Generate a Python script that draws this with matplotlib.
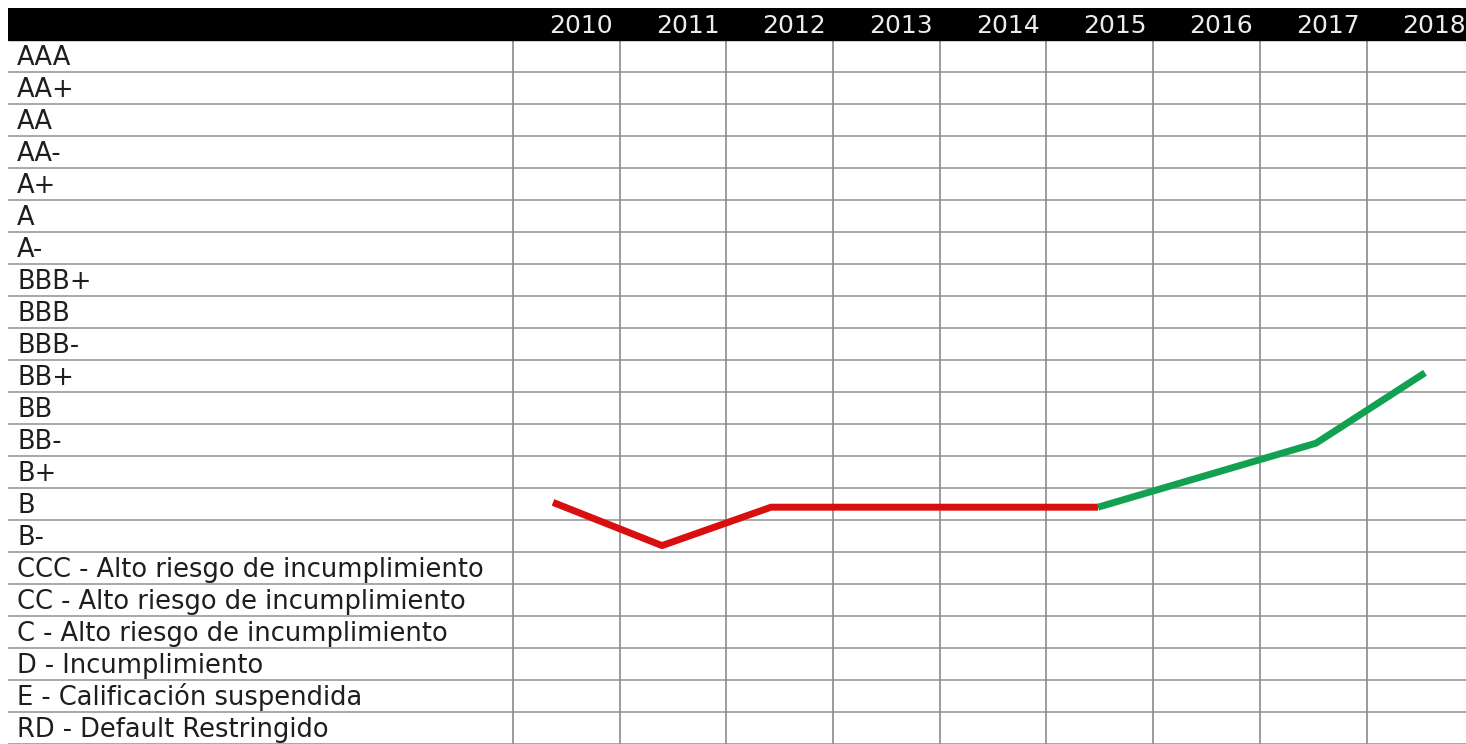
import matplotlib
matplotlib.use("Agg")
import matplotlib.pyplot as plt

# rating scale, top to bottom
ratings = ["AAA", "AA+", "AA", "AA-", "A+", "A", "A-", "BBB+", "BBB", "BBB-",
           "BB+", "BB", "BB-", "B+", "B", "B-",
           "CCC - Alto riesgo de incumplimiento",
           "CC - Alto riesgo de incumplimiento",
           "C - Alto riesgo de incumplimiento",
           "D - Incumplimiento",
           "E - Calificación suspendida",
           "RD - Default Restringido"]
years = [2010, 2011, 2012, 2013, 2014, 2015, 2016, 2017, 2018]
# rating position per year (row index, 0 = AAA)
rating_pos = [13.95, 15.3, 14.1, 14.1, 14.1, 14.1, 13.1, 12.1, 9.9]
split_year = 2015  # red up to here, green after

plt.rcParams["font.family"] = ["DejaVu Sans"]

W, H = 1466, 744
fig = plt.figure(figsize=(W / 100, H / 100), dpi=100)
ax = fig.add_axes([8 / W, 0, (W - 8) / W, (H - 8) / H])

col_w = 106.7  # px per year column
first_col = 513  # px where the 2010 column starts
x_left = years[0] - 0.5 - (first_col - 8) / col_w
x_right = years[0] - 0.5 + (W - first_col) / col_w
ax.set_xlim(x_left, x_right)
ax.set_ylim(len(ratings) - 0.5, -1.5)
ax.axis("off")

# header band
ax.axhspan(-1.5, -0.5, color="black", zorder=1)
for y in years:
    ax.text(y + 0.5 - 7 / col_w, -1 + 0.27, str(y), color="#ececec",
            fontsize=18, ha="right", va="baseline", zorder=2)

# row lines and labels
for i, r in enumerate(ratings):
    ax.axhline(i + 0.5, color="#9a9a9a", lw=1.2, zorder=0)
    ax.text(x_left + 9 / col_w, i + 0.28, r, color="#1e1e1e",
            fontsize=18.5, ha="left", va="baseline")

# column lines
for y in years:
    ax.plot([y - 0.5, y - 0.5], [-0.5, len(ratings) - 0.5],
            color="#8a8a8a", lw=1.2, zorder=0)

# the rating line sits on its own x scale (slightly off the table columns)
ax2 = ax.twiny()
ax2.set_xlim(2010 - (553 - 8) / 109, 2010 + (W - 553) / 109)
ax2.axis("off")

k = years.index(split_year)
ax2.plot(years[:k + 1], rating_pos[:k + 1], color="#d90f0f", lw=5,
         solid_capstyle="butt", zorder=5)
ax2.plot(years[k:], rating_pos[k:], color="#12a150", lw=5,
         solid_capstyle="butt", zorder=5)

fig.savefig("out.png", dpi=100)
